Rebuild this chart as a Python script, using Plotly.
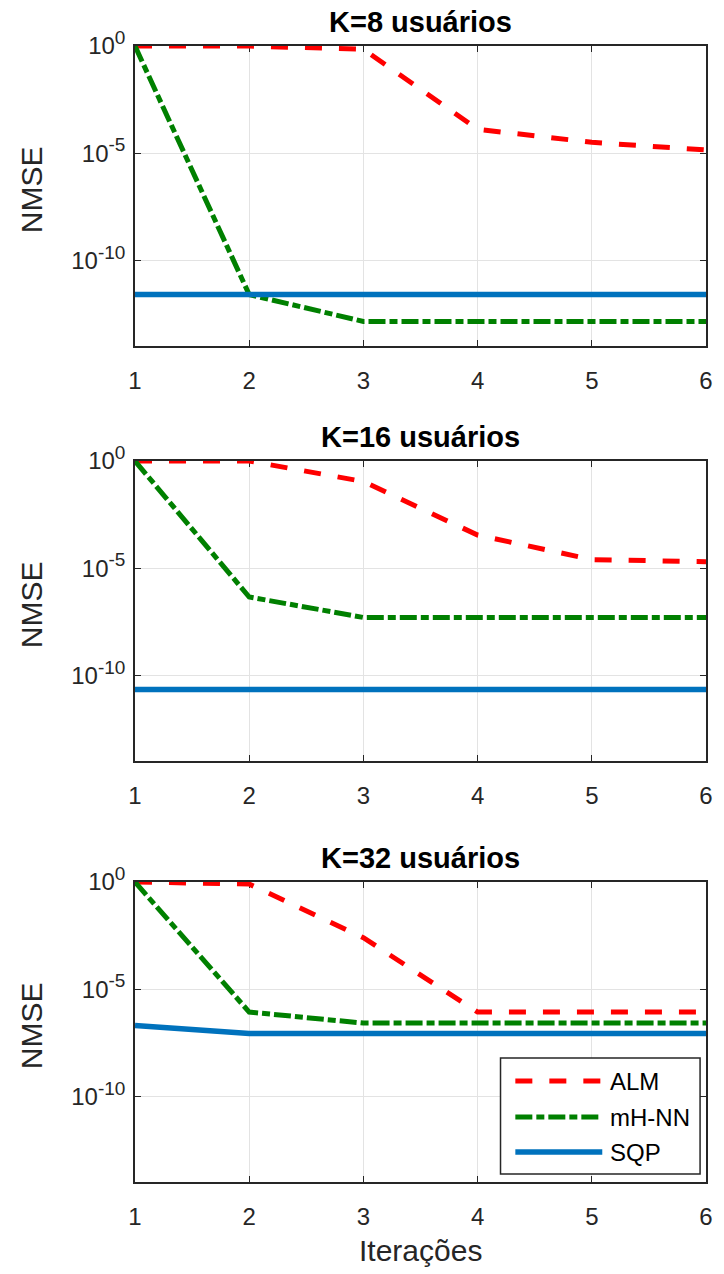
import plotly.graph_objects as go

iters = [1, 2, 3, 4, 5, 6]
titles = ["K=8 usuários", "K=16 usuários", "K=32 usuários"]

# NMSE values
alm_k8 = [1.0, 1.0, 7e-1, 1.3e-4, 3.2e-5, 1.4e-5]
mhnn_k8 = [1.0, 2.5e-12, 1.4e-13, 1.4e-13, 1.4e-13, 1.4e-13]
sqp_k8 = [2.5e-12, 2.5e-12, 2.5e-12, 2.5e-12, 2.5e-12, 2.5e-12]

alm_k16 = [1.0, 1.0, 1.1e-1, 3.5e-4, 2.5e-5, 2.0e-5]
mhnn_k16 = [1.0, 4.5e-7, 5.0e-8, 5.0e-8, 5.0e-8, 5.0e-8]
sqp_k16 = [2.2e-11, 2.2e-11, 2.2e-11, 2.2e-11, 2.2e-11, 2.2e-11]

alm_k32 = [1.0, 8e-1, 2.5e-3, 8.5e-7, 8.5e-7, 8.5e-7]
mhnn_k32 = [1.0, 8.5e-7, 2.6e-7, 2.6e-7, 2.6e-7, 2.6e-7]
sqp_k32 = [2.0e-7, 8.5e-8, 8.5e-8, 8.5e-8, 8.5e-8, 8.5e-8]

series = [(alm_k8, mhnn_k8, sqp_k8), (alm_k16, mhnn_k16, sqp_k16), (alm_k32, mhnn_k32, sqp_k32)]
names = ["ALM", "mH-NN", "SQP"]
ytick_vals = [1e-10, 1e-5, 1e0]
ytick_exp = ["-10", "-5", "0"]

W, H = 724, 1274
ML, MR, MT, MB = 135, 11, 46, 92
PW = W - ML - MR
PH = H - MT - MB
axes_px = [(46, 346), (461, 761), (882, 1182)]
title_px = [22, 437, 858]


def py(p):
    return (H - MB - p) / PH


def px(p):
    return (p - ML) / PW


FONT = "Liberation Sans, Arial, Helvetica, sans-serif"
TXT = "#262626"

fig = go.Figure()
styles = [
    dict(color="#ff0000", width=5, dash="17px,17px"),
    dict(color="#008000", width=5, dash="17px,4px,8px,4px"),
    dict(color="#0072bd", width=5.5, dash="solid"),
]

ticktext = [f"10<sup><span style='font-size:19px'>{e}</span></sup>" for e in ytick_exp]

for i, (s, (top, bot)) in enumerate(zip(series, axes_px)):
    xa = "x" if i == 0 else f"x{i+1}"
    ya = "y" if i == 0 else f"y{i+1}"
    for j, vals in enumerate(s):
        fig.add_trace(go.Scatter(
            x=iters, y=vals, mode="lines", name=names[j],
            line=styles[j], xaxis=xa, yaxis=ya,
            showlegend=False, cliponaxis=False,
        ))
    axcommon = dict(showline=True, linecolor=TXT, linewidth=1.5, mirror="ticks",
                    ticks="inside", ticklen=6, tickcolor=TXT, tickwidth=1.3,
                    showgrid=True, gridcolor="#e3e3e3", gridwidth=1,
                    zeroline=False, layer="below traces",
                    tickfont=dict(family=FONT, size=24, color=TXT))
    xkey = "xaxis" if i == 0 else f"xaxis{i+1}"
    ykey = "yaxis" if i == 0 else f"yaxis{i+1}"
    fig.update_layout(**{
        xkey: dict(domain=[0, 1], range=[1, 6], tickvals=iters, anchor=ya,
                   ticklabelstandoff=12, **axcommon),
        ykey: dict(domain=[py(bot), py(top)], type="log", range=[-14, 0], anchor=xa,
                   tickvals=ytick_vals, ticktext=ticktext,
                   ticklabelstandoff=3, **axcommon),
    })
    fig.add_annotation(text=f"<b>{titles[i]}</b>", x=0.5, y=py(title_px[i]),
                       xref="paper", yref="paper", showarrow=False,
                       font=dict(family=FONT, size=29, color="#000000"),
                       xanchor="center", yanchor="middle")
    fig.add_annotation(text="NMSE", x=px(30), y=py((top + bot) / 2 - 6),
                       xref="paper", yref="paper", showarrow=False, textangle=-90,
                       font=dict(family=FONT, size=30, color=TXT),
                       xanchor="center", yanchor="middle")

fig.add_annotation(text="Iterações", x=0.5, y=py(1250), xref="paper", yref="paper",
                   showarrow=False, font=dict(family=FONT, size=30, color=TXT),
                   xanchor="center", yanchor="middle")

# Legend (drawn as a MATLAB-style box with long line samples)
leg_box = (505, 1058, 707, 1174)
leg_rows = [1081, 1117, 1152]
fig.add_shape(type="rect", xref="paper", yref="paper",
              x0=px(leg_box[0]), x1=px(leg_box[2]), y0=py(leg_box[3]), y1=py(leg_box[1]),
              line=dict(color=TXT, width=1.5), fillcolor="white", layer="above")
for j, yr in enumerate(leg_rows):
    fig.add_shape(type="line", xref="paper", yref="paper",
                  x0=px(520), x1=px(608), y0=py(yr), y1=py(yr),
                  line=styles[j], layer="above")
    fig.add_annotation(text=names[j], x=px(614), y=py(yr), xref="paper", yref="paper",
                       showarrow=False, xanchor="left", yanchor="middle",
                       font=dict(family=FONT, size=24, color="#000000"))

fig.update_layout(
    width=W, height=H,
    margin=dict(l=ML, r=MR, t=MT, b=MB),
    paper_bgcolor="white", plot_bgcolor="white",
    showlegend=False,
)

fig.write_html("out.html")
